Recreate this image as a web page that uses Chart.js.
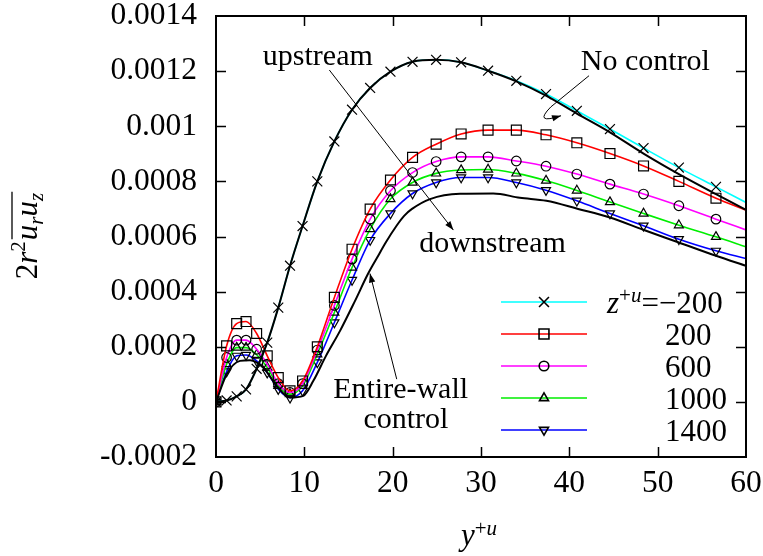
<!DOCTYPE html>
<html><head><meta charset="utf-8">
<style>html,body{margin:0;padding:0;background:#fff;}#wrap{width:763px;height:556px;}</style>
<script src="https://cdn.jsdelivr.net/npm/chart.js@4.4.0/dist/chart.umd.min.js"></script>
</head><body><div id="wrap"><canvas id="c" width="763" height="556"></canvas></div>
<script>
// ---- data ----
const yPlus = [0, 1.2, 2.34, 3.4, 4.6, 5.8, 7.05, 8.38, 9.8, 11.47, 13.4, 15.4, 17.45, 19.75, 22.25, 24.92, 27.75, 30.8, 34.0, 37.36, 40.85, 44.6, 48.4, 52.4, 56.6, 60];
const zMinus200 = [0, 0.5e-5, 2.0e-5, 4.5e-5, 1.2e-4, 2.15e-4, 3.42e-4, 4.94e-4, 6.38e-4, 8.0e-4, 9.45e-4, 1.06e-3, 1.139e-3, 1.198e-3, 1.234e-3, 1.241e-3, 1.232e-3, 1.2015e-3, 1.165e-3, 1.117e-3, 1.056e-3, 0.990e-3, 0.921e-3, 0.850e-3, 0.780e-3, 0.7235e-3];
const z200 = [0, 2.03e-4, 2.84e-4, 2.915e-4, 2.48e-4, 1.67e-4, 0.88e-4, 0.40e-4, 0.76e-4, 2.0e-4, 3.79e-4, 5.54e-4, 6.995e-4, 8.05e-4, 8.87e-4, 9.35e-4, 9.72e-4, 9.86e-4, 9.86e-4, 9.69e-4, 9.40e-4, 9.01e-4, 8.56e-4, 8.00e-4, 7.39e-4, 6.96e-4];
const z600 = [0, 1.61e-4, 2.24e-4, 2.24e-4, 1.91e-4, 1.37e-4, 0.66e-4, 0.34e-4, 0.66e-4, 1.88e-4, 3.50e-4, 5.18e-4, 6.63e-4, 7.66e-4, 8.32e-4, 8.72e-4, 8.89e-4, 8.89e-4, 8.74e-4, 8.55e-4, 8.265e-4, 7.90e-4, 7.54e-4, 7.115e-4, 6.63e-4, 6.24e-4];
const z1000 = [0, 1.37e-4, 1.97e-4, 1.97e-4, 1.71e-4, 1.245e-4, 0.58e-4, 0.28e-4, 0.58e-4, 1.73e-4, 3.24e-4, 4.875e-4, 6.27e-4, 7.36e-4, 7.96e-4, 8.29e-4, 8.41e-4, 8.43e-4, 8.29e-4, 8.03e-4, 7.67e-4, 7.25e-4, 6.835e-4, 6.41e-4, 5.99e-4, 5.627e-4];
const z1400 = [0, 1.10e-4, 1.67e-4, 1.70e-4, 1.49e-4, 1.06e-4, 0.46e-4, 0.15e-4, 0.40e-4, 1.43e-4, 2.88e-4, 4.42e-4, 5.87e-4, 6.835e-4, 7.56e-4, 7.96e-4, 8.14e-4, 8.14e-4, 7.96e-4, 7.68e-4, 7.296e-4, 6.835e-4, 6.39e-4, 5.90e-4, 5.48e-4, 5.20e-4];
const noControl = [0, 0.5e-5, 2.0e-5, 4.5e-5, 1.2e-4, 2.15e-4, 3.42e-4, 4.94e-4, 6.38e-4, 8.0e-4, 9.45e-4, 1.06e-3, 1.139e-3, 1.198e-3, 1.234e-3, 1.241e-3, 1.232e-3, 1.2015e-3, 1.163e-3, 1.111e-3, 1.046e-3, 0.978e-3, 0.901e-3, 0.8265e-3, 0.754e-3, 0.697e-3];
const wallX = [0, 1.21, 2.72, 3.85, 5.35, 6.87, 8.38, 9.88, 11.02, 12.45, 14.04, 15.74, 17.21, 18.23, 19.25, 20.46, 21.3, 22.19, 24.23, 27.62, 31.39, 34.4, 37.4, 41.0, 44.6, 48.37, 52.4, 56.6, 60];
const wallControl = [0, 1.006e-4, 1.488e-4, 1.514e-4, 1.245e-4, 0.581e-4, 0.156e-4, 0.218e-4, 0.762e-4, 1.67e-4, 2.577e-4, 3.666e-4, 4.646e-4, 5.227e-4, 5.80e-4, 6.40e-4, 6.75e-4, 7.00e-4, 7.358e-4, 7.55e-4, 7.561e-4, 7.405e-4, 7.296e-4, 7.00e-4, 6.69e-4, 6.244e-4, 5.783e-4, 5.30e-4, 4.937e-4];
const seriesNames = ['-200', '200', '600', '1000', '1400'];
const xTickValues = [0, 10, 20, 30, 40, 50, 60];
const xTickLabels = ['0', '10', '20', '30', '40', '50', '60'];
const yTickValues = [-0.0002, 0, 0.0002, 0.0004, 0.0006, 0.0008, 0.001, 0.0012, 0.0014];
const yTickLabels = ['-0.0002', '0', '0.0002', '0.0004', '0.0006', '0.0008', '0.001', '0.0012', '0.0014'];

// ---- chart ----
const FONT = '"Liberation Serif", "Times New Roman", serif';
Chart.defaults.font.family = FONT;
Chart.defaults.font.size = 30;
Chart.defaults.color = '#000';

function pts(xs, ys) { return xs.map((x, i) => ({ x: x, y: ys[i] })); }
function colored(name, ys, color, style, radius, rotation) {
  return {
    label: name, data: pts(yPlus, ys), borderColor: color, borderWidth: 1.6,
    pointStyle: style, pointRotation: rotation,
    pointRadius: ctx => (ctx.dataIndex < yPlus.length - 1 ? radius : 0),
    pointBorderColor: '#000', pointBackgroundColor: 'rgba(0,0,0,0)', pointBorderWidth: 1.2,
    cubicInterpolationMode: 'monotone', fill: false, legendMark: true
  };
}
const datasets = [
  { label: 'No control', data: pts(yPlus, noControl), borderColor: '#000', borderWidth: 2, pointRadius: 0, cubicInterpolationMode: 'monotone', fill: false },
  { label: 'Entire-wall control', data: pts(wallX, wallControl), borderColor: '#000', borderWidth: 2, pointRadius: 0, cubicInterpolationMode: 'monotone', fill: false },
  colored(seriesNames[0], zMinus200, '#00ffff', 'crossRot', 7, 0),
  colored(seriesNames[1], z200, '#ff0000', 'rect', 7, 0),
  colored(seriesNames[2], z600, '#ff00ff', 'circle', 4.8, 0),
  colored(seriesNames[3], z1000, '#00ee00', 'triangle', 5.2, 0),
  colored(seriesNames[4], z1400, '#0000ff', 'triangle', 5.2, 180)
];

function setFont(ctx, size, italic) { ctx.font = (italic ? 'italic ' : '') + size + 'px ' + FONT; }
function drawRuns(ctx, runs, x, y) {
  for (const r of runs) {
    setFont(ctx, r.s, r.i);
    ctx.fillText(r.t, x, y + (r.dy || 0));
    x += ctx.measureText(r.t).width;
  }
  return x;
}
function runsWidth(ctx, runs) {
  let w = 0;
  for (const r of runs) { setFont(ctx, r.s, r.i); w += ctx.measureText(r.t).width; }
  return w;
}
function arrowHead(ctx, x0, y0, x1, y1) {
  const a = Math.atan2(y1 - y0, x1 - x0), L = 9, W = 3.2;
  ctx.beginPath();
  ctx.moveTo(x1, y1);
  ctx.lineTo(x1 - L * Math.cos(a) + W * Math.sin(a), y1 - L * Math.sin(a) - W * Math.cos(a));
  ctx.lineTo(x1 - L * Math.cos(a) - W * Math.sin(a), y1 - L * Math.sin(a) + W * Math.cos(a));
  ctx.closePath(); ctx.fill();
}

const decor = {
  id: 'decor',
  afterDraw(chart) {
    const ctx = chart.ctx, a = chart.chartArea;
    const xs = chart.scales.x, ys = chart.scales.y;
    const px = v => xs.getPixelForValue(v), py = v => ys.getPixelForValue(v);
    ctx.save();
    ctx.strokeStyle = '#000'; ctx.fillStyle = '#000';
    // inward ticks
    ctx.lineWidth = 1.5;
    ctx.beginPath();
    xTickValues.forEach(v => {
      if (v <= xs.min || v >= xs.max) return;
      const X = Math.round(px(v)) + 0.5;
      ctx.moveTo(X, a.bottom); ctx.lineTo(X, a.bottom - 10);
      ctx.moveTo(X, a.top); ctx.lineTo(X, a.top + 10);
    });
    yTickValues.forEach(v => {
      if (v <= ys.min + 1e-12 || v >= ys.max - 1e-12) return;
      const Y = Math.round(py(v)) + 0.5;
      ctx.moveTo(a.left, Y); ctx.lineTo(a.left + 10, Y);
      ctx.moveTo(a.right, Y); ctx.lineTo(a.right - 10, Y);
    });
    ctx.stroke();
    // frame
    ctx.lineWidth = 2;
    ctx.strokeRect(a.left, a.top, a.right - a.left, a.bottom - a.top);

    // annotations
    ctx.textBaseline = 'alphabetic';
    setFont(ctx, 30, false);
    const labels = [
      ['upstream', 5.3, 1.223e-3, 'left'],
      ['downstream', 23.0, 0.542e-3, 'left'],
      ['No control', 41.3, 1.204e-3, 'left'],
      ['Entire-wall', 20.9, 0.0156e-3, 'center'],
      ['control', 21.5, -0.0933e-3, 'center']
    ];
    labels.forEach(l => { ctx.textAlign = l[3]; ctx.fillText(l[0], px(l[1]), py(l[2])); });
    ctx.textAlign = 'left';
    ctx.lineWidth = 1;
    // straight arrows
    [[12.83, 1.204e-3, 26.87, 0.6233e-3], [20.46, 0.0824e-3, 17.43, 0.4657e-3]].forEach(r => {
      const x0 = px(r[0]), y0 = py(r[1]), x1 = px(r[2]), y1 = py(r[3]);
      ctx.beginPath(); ctx.moveTo(x0, y0); ctx.lineTo(x1, y1); ctx.stroke();
      arrowHead(ctx, x0, y0, x1, y1);
    });
    // curved arrow for No control
    {
      const S = [px(42.23), py(1.1834e-3)], P = [px(37.9), py(1.070e-3)], C = [px(35.9), py(1.005e-3)], E = [px(39.06), py(1.0382e-3)];
      ctx.beginPath(); ctx.moveTo(S[0], S[1]); ctx.lineTo(P[0], P[1]);
      ctx.quadraticCurveTo(C[0], C[1], E[0], E[1]); ctx.stroke();
      arrowHead(ctx, E[0] - 10, E[1] + 3, E[0], E[1]);
    }

    // legend
    const rows = [302, 334, 366, 398, 430];
    const colorSets = chart.data.datasets.filter(d => d.legendMark);
    colorSets.forEach((d, i) => {
      const y = rows[i];
      ctx.strokeStyle = d.borderColor; ctx.lineWidth = 1.6;
      ctx.beginPath(); ctx.moveTo(501, y); ctx.lineTo(587, y); ctx.stroke();
      ctx.strokeStyle = '#000'; ctx.fillStyle = 'rgba(0,0,0,0)';
      const r = typeof d.pointRadius === 'function' ? d.pointRadius({ dataIndex: 0 }) : d.pointRadius;
      Chart.helpers.drawPoint(ctx, { pointStyle: d.pointStyle, radius: r, rotation: d.pointRotation, borderWidth: 1.2 }, 544, y);
      ctx.fillStyle = '#000';
      const val = d.label.replace('-', '\u2212');
      if (i === 0) {
        drawRuns(ctx, [{ t: 'z', s: 31, i: true }, { t: '+', s: 21, dy: -11 }, { t: 'u', s: 21, i: true, dy: -11 }, { t: '=' + val, s: 31 }], 607, y + 10.5);
      } else {
        setFont(ctx, 31, false);
        ctx.fillText(val, 665, y + 10.5);
      }
    });

    // x title
    ctx.fillStyle = '#000';
    drawRuns(ctx, [{ t: 'y', s: 31, i: true }, { t: '+', s: 21, dy: -10 }, { t: 'u', s: 21, i: true, dy: -10 }], 461, 545);

    // y title (rotated)
    const pre = [{ t: '2', s: 31 }, { t: 'r', s: 31, i: true }, { t: '2', s: 21, dy: -12 }];
    const bar = [{ t: 'u', s: 31, i: true }, { t: 'r', s: 21, i: true, dy: 6 }, { t: 'u', s: 31, i: true }, { t: 'z', s: 21, i: true, dy: 6 }];
    const w1 = runsWidth(ctx, pre), w2 = runsWidth(ctx, bar), L = w1 + w2;
    const cy = (a.top + a.bottom) / 2;
    ctx.translate(37, cy + L / 2);
    ctx.rotate(-Math.PI / 2);
    drawRuns(ctx, pre, 0, 0);
    drawRuns(ctx, bar, w1 + 1, 0);
    ctx.lineWidth = 1.3; ctx.strokeStyle = '#000';
    ctx.beginPath(); ctx.moveTo(w1 + 2, -25); ctx.lineTo(L + 2, -25); ctx.stroke();
    ctx.restore();
  }
};

new Chart(document.getElementById('c'), {
  type: 'line',
  data: { datasets: datasets },
  options: {
    responsive: false, animation: false, devicePixelRatio: 1, events: [],
    layout: { padding: { left: 0, top: 16, right: 17, bottom: 0 } },
    plugins: { legend: { display: false }, tooltip: { enabled: false } },
    scales: {
      x: {
        type: 'linear', min: 0, max: 60,
        afterBuildTicks: s => { s.ticks = xTickValues.map(v => ({ value: v })); },
        afterFit: s => { s.height = 99; s.paddingLeft = 0; s.paddingRight = 0; s.paddingTop = 0; s.paddingBottom = 0; },
        grid: { display: false, drawTicks: false }, border: { display: false },
        ticks: { padding: 11, maxRotation: 0, autoSkip: false, font: { size: 31.5, lineHeight: 1 },
          callback: (v, i) => xTickLabels[i] }
      },
      y: {
        type: 'linear', min: -0.0002, max: 0.0014,
        afterBuildTicks: s => { s.ticks = yTickValues.map(v => ({ value: v })); },
        afterFit: s => { s.width = 216; s.paddingLeft = 0; s.paddingRight = 0; s.paddingTop = 0; s.paddingBottom = 0; },
        grid: { display: false, drawTicks: false }, border: { display: false },
        ticks: { padding: 19, autoSkip: false, font: { size: 31.5, lineHeight: 1 },
          callback: (v, i) => yTickLabels[i] }
      }
    }
  },
  plugins: [decor]
});
</script></body></html>
